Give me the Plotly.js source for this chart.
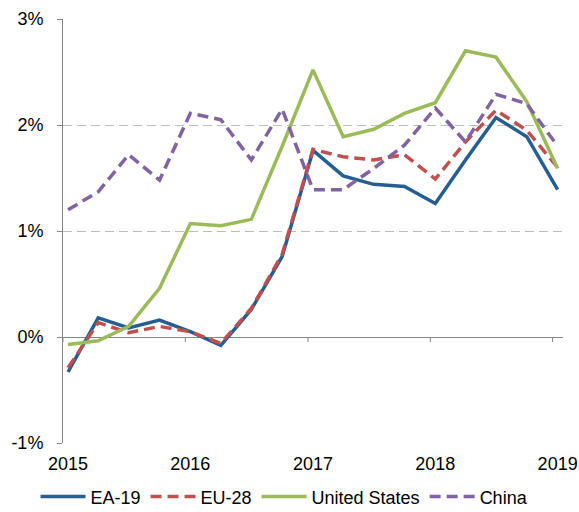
<!DOCTYPE html>
<html>
<head>
<meta charset="utf-8">
<script src="https://cdn.plot.ly/plotly-3.0.1.min.js"></script>
<style>
  html, body { margin: 0; padding: 0; background: #fff; }
  #plot { width: 579px; height: 512px; }
</style>
</head>
<body>
<div id="plot"></div>
<script>
// quarterly points, placed mid-month like the source chart
let quarters = [
    '2015-01-16', '2015-04-16', '2015-07-16', '2015-10-16',
    '2016-01-16', '2016-04-16', '2016-07-16', '2016-10-16',
    '2017-01-16', '2017-04-16', '2017-07-16', '2017-10-16',
    '2018-01-16', '2018-04-16', '2018-07-16', '2018-10-16',
    '2019-01-16'
];

let ea19 = [-0.33, 0.18, 0.085, 0.16, 0.05, -0.08, 0.26, 0.76, 1.76, 1.52, 1.44, 1.42, 1.26, 1.67, 2.07, 1.89, 1.39];
let eu28 = [-0.29, 0.135, 0.04, 0.10, 0.05, -0.06, 0.27, 0.78, 1.77, 1.70, 1.67, 1.72, 1.49, 1.84, 2.14, 1.95, 1.60];
let usa = [-0.07, -0.035, 0.10, 0.46, 1.07, 1.05, 1.11, 1.80, 2.52, 1.89, 1.96, 2.11, 2.21, 2.70, 2.64, 2.22, 1.59];
let china = [1.20, 1.37, 1.72, 1.48, 2.11, 2.05, 1.67, 2.15, 1.39, 1.39, 1.59, 1.81, 2.16, 1.84, 2.29, 2.20, 1.80];

let yearStarts = ['2015-01-01', '2016-01-01', '2017-01-01', '2018-01-01', '2019-01-01'];
let yearLabelPos = ['2015-01-16', '2016-01-16', '2017-01-16', '2018-01-16', '2019-01-16'];
let yearLabels = ['2015', '2016', '2017', '2018', '2019'];

let yTickVals = [-1, 0, 1, 2, 3];
let yTickText = ['-1%', '0%', '1%', '2%', '3%'];

let axisGrey = '#868686';
let font = {family: 'Liberation Sans, Arial, sans-serif', size: 18, color: '#000'};

function series(name, values, color, dash) {
    return {
        x: quarters,
        y: values,
        name: name,
        mode: 'lines',
        type: 'scatter',
        line: {color: color, width: 3.5, dash: dash}
    };
}

let data = [
    series('EA-19', ea19, '#255E91', 'solid'),
    series('EU-28', eu28, '#C0504D', '11px,6px'),
    series('United States', usa, '#9BBB59', 'solid'),
    series('China', china, '#8064A2', '11px,6px')
];

// small tick marks hanging under the 0% line
let tickShapes = yearStarts.map(d => ({
    type: 'line',
    xref: 'x', yref: 'y',
    x0: d, x1: d,
    ysizemode: 'pixel', yanchor: 0,
    y0: 0, y1: -5,
    line: {color: axisGrey, width: 1},
    layer: 'below'
}));

let layout = {
    width: 579,
    height: 512,
    margin: {l: 63, r: 16, t: 19, b: 69, autoexpand: false},
    paper_bgcolor: '#fff',
    plot_bgcolor: '#fff',
    font: font,
    showlegend: true,
    xaxis: {
        type: 'date',
        range: ['2015-01-01', '2019-02-01'],
        tickvals: yearLabelPos,
        ticktext: yearLabels,
        ticks: '',
        showgrid: false,
        showline: false,
        zeroline: false,
        ticklabelstandoff: 8,
        tickfont: font,
        automargin: false
    },
    yaxis: {
        range: [-1, 3],
        tickvals: yTickVals,
        ticktext: yTickText,
        showgrid: true,
        gridcolor: '#bdbdbd',
        griddash: '9px,5px',
        gridwidth: 1,
        zeroline: true,
        zerolinecolor: axisGrey,
        zerolinewidth: 1,
        showline: true,
        linecolor: axisGrey,
        linewidth: 1,
        ticks: 'outside',
        ticklen: 5,
        tickcolor: axisGrey,
        ticklabelstandoff: 10,
        tickfont: font,
        automargin: false
    },
    shapes: tickShapes,
    legend: {
        orientation: 'h',
        x: 0.443,
        xanchor: 'center',
        y: -0.127,
        yanchor: 'middle',
        font: font,
        itemwidth: 45,
        bgcolor: 'rgba(0,0,0,0)'
    }
};

Plotly.newPlot('plot', data, layout, {displayModeBar: false, staticPlot: true});
</script>
</body>
</html>
